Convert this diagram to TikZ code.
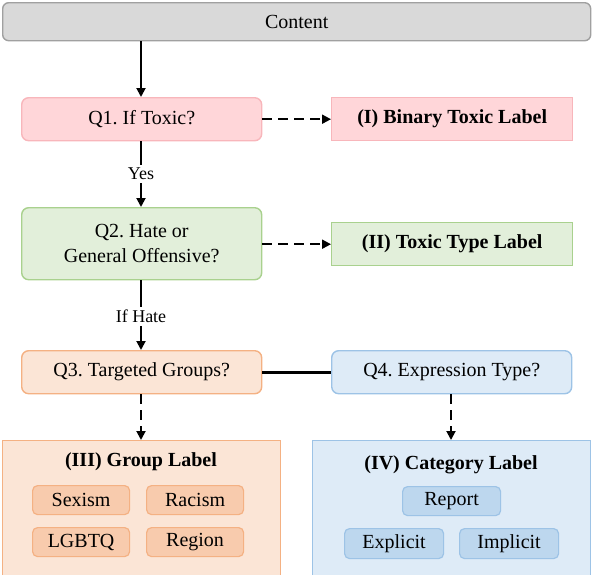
\documentclass[tikz,border=0pt]{standalone}
\usepackage{fontspec}
\setmainfont{Liberation Serif}
\frenchspacing
\usetikzlibrary{arrows.meta}
\definecolor{grayF}{HTML}{D9D9D9}\definecolor{grayD}{HTML}{A0A0A0}
\definecolor{pinkF}{HTML}{FFD6D9}\definecolor{pinkD}{HTML}{F8B6BB}
\definecolor{greenF}{HTML}{E2EFDA}\definecolor{greenD}{HTML}{A9D18E}
\definecolor{peachF}{HTML}{FBE5D6}\definecolor{peachD}{HTML}{F4B183}
\definecolor{peachI}{HTML}{F8CBAD}
\definecolor{blueF}{HTML}{DEEBF7}\definecolor{blueD}{HTML}{9DC3E6}
\definecolor{blueI}{HTML}{BDD7EE}
\tikzset{
  box/.style={draw, line width=1.4pt, minimum width=240pt, minimum height=43pt, inner sep=0pt, anchor=north west, font=\fontsize{20}{25}\selectfont, align=center},
  rbox/.style={box, rounded corners=7pt},
  lbl/.style={box, font=\fontsize{20}{25}\selectfont\bfseries, minimum width=241pt},
  panel/.style={draw, line width=1.4pt, minimum width=278pt, minimum height=136pt, inner sep=0pt, anchor=north west},
  item/.style={draw, line width=1.2pt, rounded corners=5pt, minimum width=97pt, minimum height=29pt, inner sep=0pt, anchor=north west, font=\fontsize{20}{22}\selectfont},
  ttl/.style={font=\fontsize{20}{22}\selectfont\bfseries},
  conn/.style={line width=1.9pt, -{Triangle[length=9pt,width=9pt]}},
  dconn/.style={conn, dash pattern=on 9.5pt off 6.5pt},
  edgelbl/.style={fill=white, inner sep=3pt, font=\fontsize{18}{20}\selectfont},
}
\begin{document}
\begin{tikzpicture}[x=1pt,y=-1pt]
\useasboundingbox (0,0) rectangle (592,574);
\node[rbox, fill=grayF, draw=grayD, minimum width=588pt, minimum height=38pt, rounded corners=6pt] (content) at (2,2) {Content};
\node[rbox, fill=pinkF, draw=pinkD] (q1) at (21,97) {Q1. If Toxic?};
\node[lbl, fill=pinkF, draw=pinkD] (l1) at (331,97) {(I) Binary Toxic Label};
\node[rbox, fill=greenF, draw=greenD, minimum height=72pt] (q2) at (21,207) {Q2. Hate or\\General Offensive?};
\node[lbl, fill=greenF, draw=greenD] (l2) at (331,222) {(II) Toxic Type Label};
\node[rbox, fill=peachF, draw=peachD] (q3) at (21,350) {Q3. Targeted Groups?};
\node[rbox, fill=blueF, draw=blueD] (q4) at (331,350) {Q4. Expression Type?};
% group panel
\node[panel, fill=peachF, draw=peachD] (g) at (2,440) {};
\node[ttl] (gt) at (141,462) {(III) Group Label};
\node[item, fill=peachI, draw=peachD] (sex) at (32,485) {Sexism};
\node[item, fill=peachI, draw=peachD] (rac) at (146,485) {Racism};
\node[item, fill=peachI, draw=peachD] (lgb) at (32,527) {LGBTQ};
\node[item, fill=peachI, draw=peachD] (reg) at (146,527) {Region};
% category panel
\node[panel, fill=blueF, draw=blueD] (c) at (312,440) {};
\node[ttl] (ct) at (451,465) {(IV) Category Label};
\node[item, fill=blueI, draw=blueD, minimum width=98pt] (rep) at (402,486) {Report};
\node[item, fill=blueI, draw=blueD, minimum width=99pt, minimum height=30pt] (exp) at (344,528) {Explicit};
\node[item, fill=blueI, draw=blueD, minimum width=99pt, minimum height=30pt] (imp) at (459,528) {Implicit};
% connectors
\draw[conn] (content.south -| 141,0) -- (q1.north -| 141,0);
\draw[dconn] (q1.east) -- (l1.west);
\draw[conn] (q1.south -| 141,0) -- node[edgelbl, pos=0.49] (yes) {Yes} (q2.north -| 141,0);
\draw[dconn] (q2.east |- l2.west) -- (l2.west);
\draw[conn] (q2.south -| 141,0) -- node[edgelbl, pos=0.52] (ifh) {If Hate} (q3.north -| 141,0);
\draw[line width=2.6pt] (q3.east) -- (q4.west);
\draw[dconn] (q3.south -| 141,0) -- (g.north -| 141,0);
\draw[dconn] (q4.south -| 451,0) -- (c.north -| 451,0);
\end{tikzpicture}
\end{document}
